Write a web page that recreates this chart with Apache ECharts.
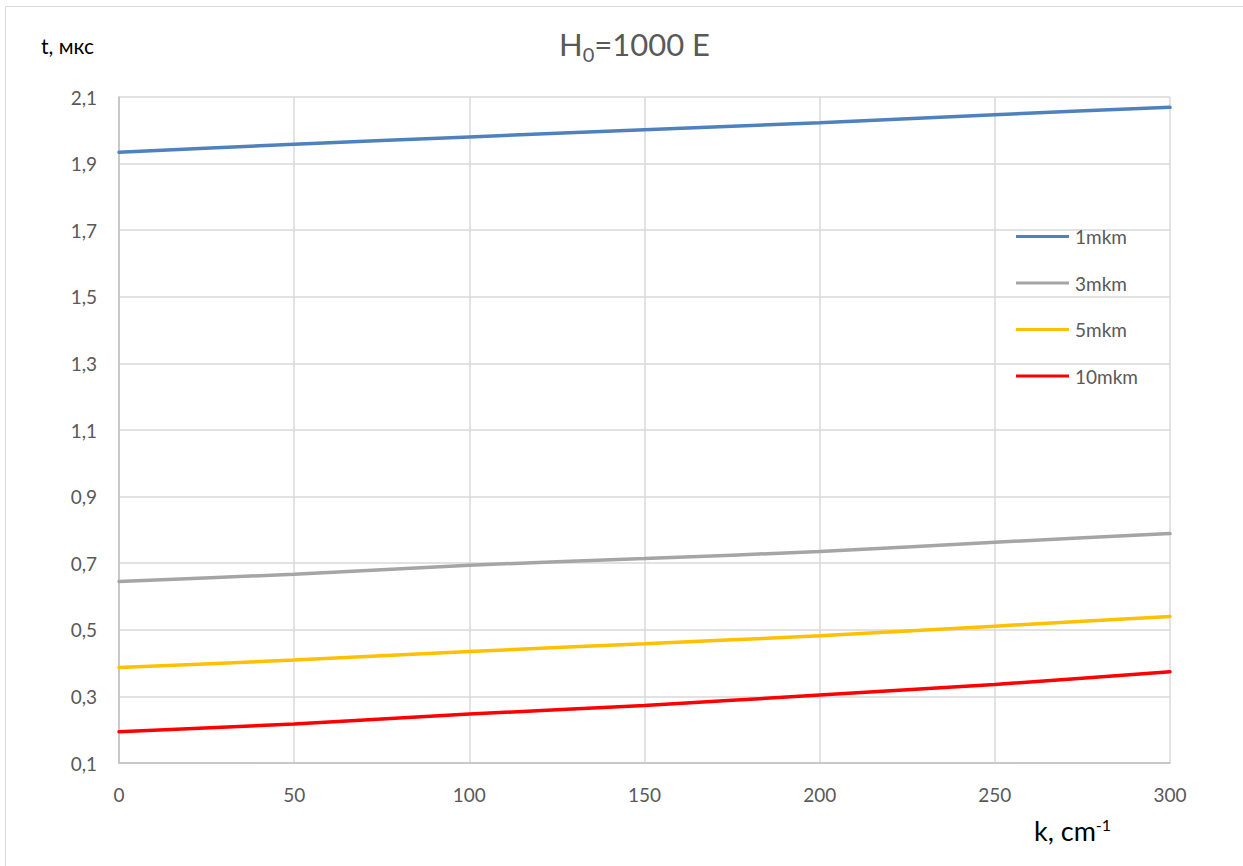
<!DOCTYPE html>
<html>
<head>
<meta charset="utf-8">
<script src="https://cdn.jsdelivr.net/npm/echarts@6/dist/echarts.min.js"></script>
<style>
  html, body { margin: 0; padding: 0; background: #fff; }
  #chart { width: 1243px; height: 866px; }
</style>
</head>
<body>
<div id="chart"></div>
<script>
// Switching time t (µs) versus absorption coefficient k at H0 = 1000 Oe
const kValues = [0, 50, 100, 150, 200, 250, 300];
const seriesNames = ['1mkm', '3mkm', '5mkm', '10mkm'];
const t1mkm  = [1.934, 1.958, 1.980, 2.002, 2.023, 2.047, 2.069];
const t3mkm  = [0.645, 0.667, 0.694, 0.714, 0.735, 0.763, 0.789];
const t5mkm  = [0.387, 0.409, 0.435, 0.458, 0.482, 0.511, 0.540];
const t10mkm = [0.194, 0.217, 0.247, 0.273, 0.304, 0.336, 0.374];
const yTicks = [0.1, 0.3, 0.5, 0.7, 0.9, 1.1, 1.3, 1.5, 1.7, 1.9, 2.1];
const xTicks = [0, 50, 100, 150, 200, 250, 300];
const colors = ['#4f81bd', '#a5a5a5', '#ffc000', '#ff0000'];

const FONT = 'Lato, "Open Sans", sans-serif';
const TEXT = '#595959';

const pairs = (ys) => kValues.map((k, i) => [k, ys[i]]);
const allSeries = [t1mkm, t3mkm, t5mkm, t10mkm];

const chart = echarts.init(document.getElementById('chart'), null, { renderer: 'svg' });

chart.setOption({
  backgroundColor: '#fff',
  animation: false,
  textStyle: { fontFamily: FONT },
  title: {
    text: '{a|H}{s|0}{a|=1000 E}',
    left: 554,
    top: 19,
    textStyle: {
      fontWeight: 'normal',
      rich: {
        a: { fontFamily: FONT, fontSize: 31, fontWeight: 'normal', color: TEXT },
        s: { fontFamily: FONT, fontSize: 20, fontWeight: 'normal', color: TEXT, padding: [20, 0, 0, 0] }
      }
    }
  },
  legend: {
    orient: 'vertical',
    left: 1011,
    top: 222,
    itemWidth: 53,
    itemHeight: 3,
    itemGap: 27.5,
    icon: 'rect',
    data: seriesNames,
    textStyle: { fontFamily: FONT, fontSize: 19, color: TEXT, padding: [0, 0, 0, 1] }
  },
  grid: { left: 119, right: 73, top: 97, bottom: 103, containLabel: false },
  xAxis: {
    type: 'value',
    min: 0,
    max: 300,
    interval: 50,
    axisLine: { show: true, lineStyle: { color: '#bfbfbf', width: 1.5 } },
    axisTick: { show: false },
    splitLine: { show: true, lineStyle: { color: '#d9d9d9', width: 1.5 } },
    axisLabel: {
      margin: 22,
      fontFamily: FONT,
      fontSize: 19,
      color: TEXT,
      customValues: xTicks
    }
  },
  yAxis: {
    type: 'value',
    min: 0.1,
    max: 2.1,
    axisLine: { show: true, lineStyle: { color: '#bfbfbf', width: 1.5 } },
    axisTick: { show: false, customValues: yTicks },
    splitLine: { show: true, lineStyle: { color: '#d9d9d9', width: 1.5 } },
    axisLabel: {
      margin: 22,
      fontFamily: FONT,
      fontSize: 19,
      color: TEXT,
      customValues: yTicks,
      formatter: (v) => v.toFixed(1).replace('.', ',')
    }
  },
  graphic: [
    {
      type: 'rect',
      shape: { x: 5.5, y: 6.5, width: 1250, height: 870 },
      style: { fill: 'none', stroke: '#d9d9d9', lineWidth: 1 },
      silent: true
    },
    {
      type: 'text',
      left: 41,
      top: 35,
      style: {
        text: '{a|t, мкс}',
        rich: { a: { fontFamily: FONT, fontSize: 21, color: TEXT } }
      }
    },
    {
      type: 'text',
      left: 1034,
      top: 816,
      style: {
        text: '{a|k, cm}{s|-1}',
        rich: {
          a: { fontFamily: FONT, fontSize: 27, color: TEXT },
          s: { fontFamily: FONT, fontSize: 16, color: TEXT, padding: [0, 0, 13, 0] }
        }
      }
    }
  ],
  series: allSeries.map((ys, i) => ({
    name: seriesNames[i],
    type: 'line',
    data: pairs(ys),
    showSymbol: false,
    symbol: 'none',
    smooth: 0.2,
    color: colors[i],
    lineStyle: { width: 3.5, color: colors[i], cap: 'round' }
  }))
});
</script>
</body>
</html>
